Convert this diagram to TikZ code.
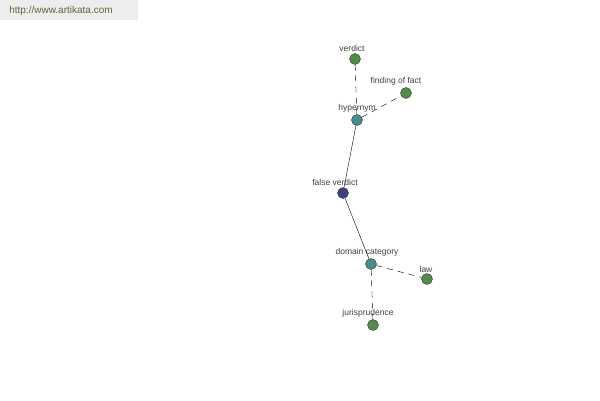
\documentclass[tikz,border=0pt]{standalone}
\usepackage{fontspec}
\setmainfont{Liberation Sans}
\usetikzlibrary{positioning}
\definecolor{leafgreen}{RGB}{82,140,72}
\definecolor{relteal}{RGB}{72,140,140}
\definecolor{headblue}{RGB}{62,62,130}
\definecolor{siteolive}{RGB}{85,105,60}
\begin{document}
\begin{tikzpicture}[
    x=1pt, y=-1pt,
    word/.style={circle, draw=black!80, minimum size=11pt, inner sep=0pt},
    leaf/.style={word, fill=leafgreen},
    rel/.style={word, fill=relteal},
    head/.style={word, fill=headblue},
    lbl/.style={font=\fontsize{8.5}{9}\selectfont, text=black!75, inner sep=1pt},
    link/.style={black, thin},
    weak/.style={black, thin, dashed, dash pattern=on 6pt off 5pt}
]
\useasboundingbox (0,0) rectangle (600,400);

% Site banner
\fill[black!7] (0,0) rectangle (138,20);
\node[font=\fontsize{10}{11}\selectfont, text=siteolive] (site) at (61,11) {http://www.artikata.com};

% Word nodes
\node[head] (false) at (343,193) {};
\node[rel] (hyper) at (357,120) {};
\node[rel] (domain) at (371,264) {};
\node[leaf] (verdict) at (355,59) {};
\node[leaf] (fact) at (406,93) {};
\node[leaf] (law) at (427,279) {};
\node[leaf] (juris) at (373,325) {};

% Labels
\node[lbl, above=1pt of false, xshift=-8pt] (falseL) {false verdict};
\node[lbl, above=1pt of hyper] (hyperL) {hypernym};
\node[lbl, above=1pt of domain, xshift=-4pt] (domainL) {domain category};
\node[lbl, above=1pt of verdict, xshift=-3pt] (verdictL) {verdict};
\node[lbl, above=1pt of fact, xshift=-10pt] (factL) {finding of fact};
\node[lbl, above=0pt of law, xshift=-1pt] (lawL) {law};
\node[lbl, above=1pt of juris, xshift=-5pt] (jurisL) {jurisprudence};

% Connections
\draw[link] (hyper) -- (false);
\draw[link] (false) -- (domain);
\draw[weak] (hyper) -- (verdict);
\draw[weak] (hyper) -- (fact);
\draw[weak] (domain) -- (law);
\draw[weak] (domain) -- (juris);

\end{tikzpicture}
\end{document}
